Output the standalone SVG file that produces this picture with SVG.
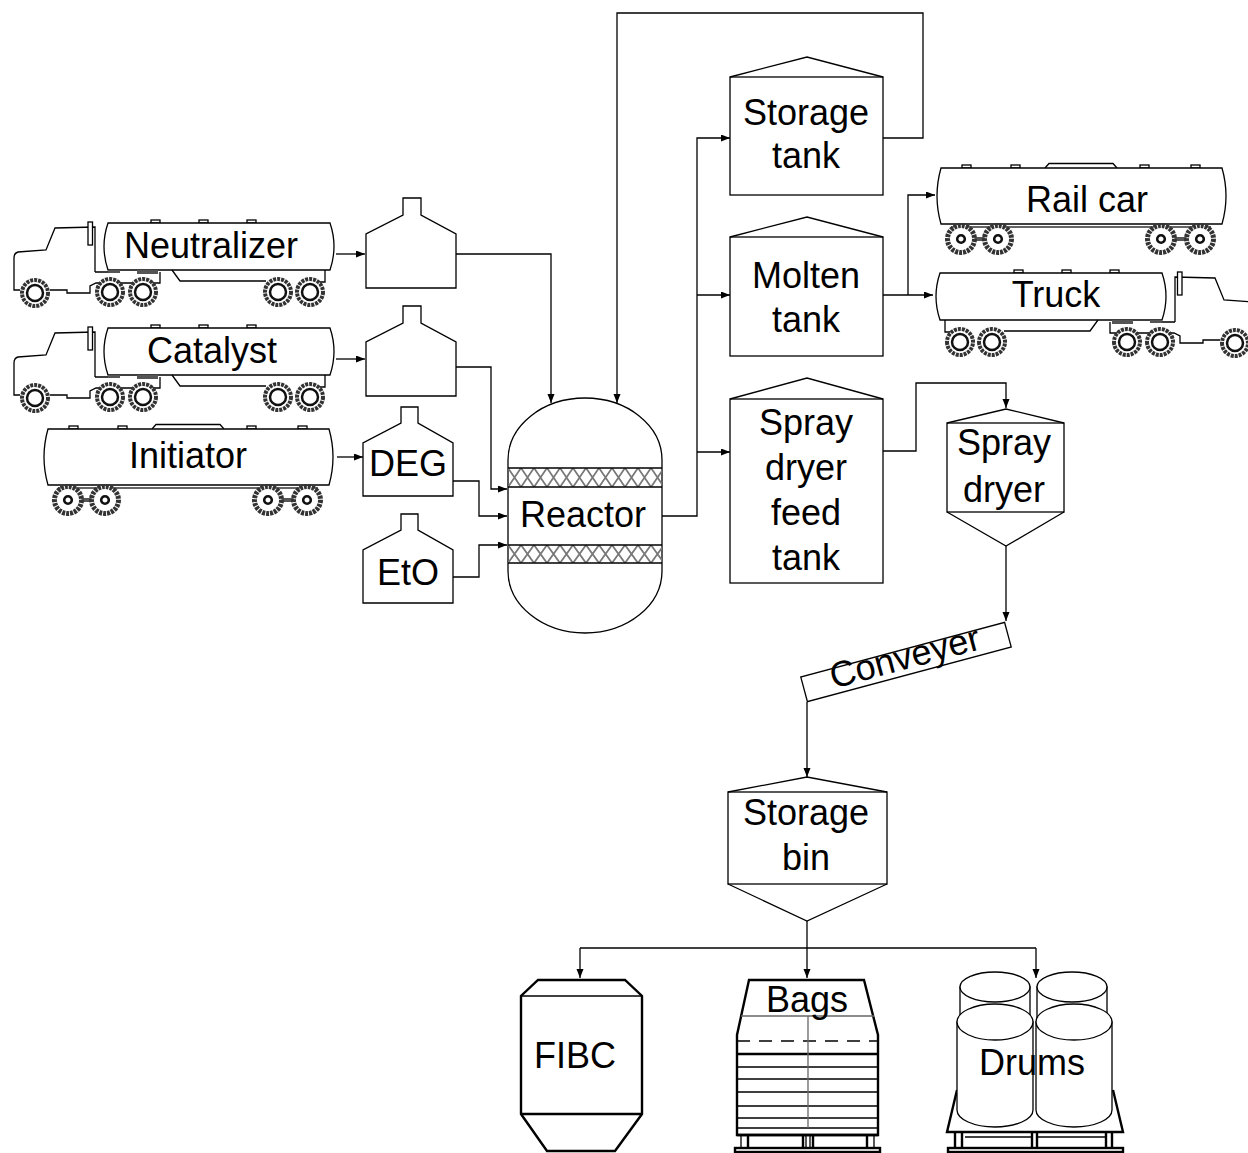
<svg xmlns="http://www.w3.org/2000/svg" width="1248" height="1153" viewBox="0 0 1248 1153">
<style>
.s{fill:none;stroke:#000;stroke-width:1.3}
.w{fill:#fff;stroke:#000;stroke-width:1.3}
.k{fill:none;stroke:#000;stroke-width:2.4}
.kw{fill:#fff;stroke:#000;stroke-width:2.4}
.g{fill:none;stroke:#666;stroke-width:1.3}
.t{font-family:"Liberation Sans",Arial,sans-serif;font-size:36px;text-anchor:middle;fill:#000}
.c{fill:none;stroke:#000;stroke-width:1.3;marker-end:url(#a)}
</style>
<defs>
<marker id="a" markerUnits="userSpaceOnUse" markerWidth="10" markerHeight="8" refX="9" refY="3.5" orient="auto"><path d="M0,0 L9,3.5 L0,7 Z" fill="#000"/></marker>
<pattern id="h1" patternUnits="userSpaceOnUse" x="508" y="468" width="13" height="19"><path d="M0,0 L13,19 M13,0 L0,19" stroke="#777" stroke-width="1.8" fill="none"/></pattern>
<pattern id="h2" patternUnits="userSpaceOnUse" x="508" y="545" width="13" height="18"><path d="M0,0 L13,18 M13,0 L0,18" stroke="#777" stroke-width="1.8" fill="none"/></pattern>
<g id="tw"><circle r="13" fill="#fff" stroke="#333" stroke-width="4" stroke-dasharray="3 1"/><circle r="8" fill="#fff" stroke="#111" stroke-width="2.5"/></g>
<g id="rw"><circle r="13.5" fill="#fff" stroke="#333" stroke-width="5" stroke-dasharray="3 1"/><circle r="3.8" fill="#fff" stroke="#111" stroke-width="2.6"/></g>
<g id="truck">
<rect x="151" y="220" width="9" height="3" class="w"/>
<rect x="199" y="220" width="9" height="3" class="w"/>
<rect x="247" y="220" width="9" height="3" class="w"/>
<path d="M108,223 H330 Q338,246.5 330,270 H108 Q100,246.5 108,223 Z" class="w"/>
<path d="M95,272 V227 L55,228 L46,250 L18,252 Q14,253 14,258 V290 H20" class="s"/>
<path d="M50,290 H67 V293 H90 V286 L96,283 H160 V272 M95,272 H120" class="s"/>
<rect x="88" y="222" width="4.5" height="23" class="w"/>
<rect x="108" y="270" width="12" height="3" fill="#555"/>
<rect x="137" y="270" width="21" height="4" fill="#555"/>
<path d="M172,270 L180,281 H266 M325,270 V282 H320" class="s"/>
<use href="#tw" x="35" y="293"/>
<use href="#tw" x="110" y="292"/>
<use href="#tw" x="143" y="292"/>
<use href="#tw" x="278" y="292"/>
<use href="#tw" x="310" y="292"/>
</g>
<g id="rail">
<rect x="69" y="426" width="9" height="3" class="w"/>
<rect x="118" y="426" width="9" height="3" class="w"/>
<rect x="247" y="426" width="9" height="3" class="w"/>
<rect x="298" y="426" width="9" height="3" class="w"/>
<path d="M152,429 L156,424.5 H220 L224,429" class="w"/>
<path d="M48,429 H329 Q337,457 329,485 H48 Q40,457 48,429 Z" class="w"/>
<line x1="58" y1="488" x2="318" y2="488" stroke="#666" stroke-width="2"/>
<rect x="68" y="498" width="37" height="4" fill="#555"/>
<rect x="268" y="498" width="39" height="4" fill="#555"/>
<use href="#rw" x="68" y="500"/>
<use href="#rw" x="105" y="500"/>
<use href="#rw" x="268" y="500"/>
<use href="#rw" x="307" y="500"/>
</g>
</defs>
<rect width="1248" height="1153" fill="#fff"/>

<g id="connectors">
<path d="M336,254 H365" class="c"/>
<path d="M336,359 H365" class="c"/>
<path d="M337,457 H363" class="c"/>
<path d="M456,254 H551 V403" class="c"/>
<path d="M456,367 H491 V489 H507" class="c"/>
<path d="M453,481 H479 V516 H507" class="c"/>
<path d="M453,577 H479 V545 H507" class="c"/>
<path d="M883,138 H923 V13 H617 V403" class="c"/>
<path d="M662,516 H697 V138 H730" class="c"/>
<path d="M697,295 H730" class="c"/>
<path d="M697,452 H730" class="c"/>
<path d="M883,295 H933" class="c"/>
<path d="M908,295 V195 H935" class="c"/>
<path d="M883,451 H916 V383 H1006 V408" class="c"/>
<path d="M1006,546 V621" class="c"/>
<path d="M807,702 V777" class="c"/>
<path d="M807,921 V978" class="c"/>
<path d="M580,948 H1036" class="s"/>
<path d="M580,948 V978" class="c"/>
<path d="M1036,948 V978" class="c"/>
</g>

<g id="neutralizer-truck"><use href="#truck"/><text x="211" y="258" class="t">Neutralizer</text></g>
<g id="catalyst-truck"><use href="#truck" transform="translate(0,105)"/><text x="212" y="363" class="t">Catalyst</text></g>
<g id="initiator-railcar"><use href="#rail"/><text x="188" y="468" class="t">Initiator</text></g>

<g id="neutralizer-tank"><path d="M403,198 H421 V215 L456,234 V288 H366 V234 L403,215 Z" class="w"/></g>
<g id="catalyst-tank"><path d="M403,306 H421 V323 L456,342 V396 H366 V342 L403,323 Z" class="w"/></g>
<g id="deg-tank"><path d="M401,407 H418 V423 L453,443 V496 H363 V443 L401,423 Z" class="w"/><text x="408" y="476" class="t">DEG</text></g>
<g id="eto-tank"><path d="M401,514 H418 V530 L453,550 V603 H363 V550 L401,530 Z" class="w"/><text x="408" y="585" class="t">EtO</text></g>

<g id="reactor">
<path d="M508,460 A77,62 0 0 1 662,460 V571 A77,62 0 0 1 508,571 Z" class="w"/>
<rect x="508" y="468" width="154" height="19" fill="url(#h1)"/>
<rect x="508" y="545" width="154" height="18" fill="url(#h2)"/>
<path d="M508,468 H662 M508,487 H662 M508,545 H662 M508,563 H662" class="s"/>
<text x="583" y="527" class="t">Reactor</text>
</g>

<g id="storage-tank"><rect x="730" y="77" width="153" height="118" class="w"/><path d="M730,77 L807,57 L883,77" class="s"/><text x="806" y="125" class="t">Storage</text><text x="806" y="168" class="t">tank</text></g>
<g id="molten-tank"><rect x="730" y="237" width="153" height="119" class="w"/><path d="M730,237 L807,217 L883,237" class="s"/><text x="806" y="288" class="t">Molten</text><text x="806" y="332" class="t">tank</text></g>
<g id="spray-dryer-feed-tank"><rect x="730" y="399" width="153" height="184" class="w"/><path d="M730,399 L807,378 L883,399" class="s"/><text x="806" y="435" class="t">Spray</text><text x="806" y="480" class="t">dryer</text><text x="806" y="525" class="t">feed</text><text x="806" y="570" class="t">tank</text></g>

<g id="rail-car"><use href="#rail" transform="translate(893,-261)"/><text x="1087" y="212" class="t">Rail car</text></g>
<g id="truck-out"><use href="#truck" transform="translate(1270,50) scale(-1,1)"/><text x="1056" y="307" class="t">Truck</text></g>

<g id="spray-dryer"><rect x="947" y="423" width="117" height="89" class="w"/><path d="M947,423 L1006,409 L1064,423 M947,512 L1006,546 L1064,512" class="s"/><text x="1004" y="455" class="t">Spray</text><text x="1004" y="502" class="t">dryer</text></g>

<g id="conveyer" transform="translate(906,662) rotate(-15)"><rect x="-105.5" y="-12.8" width="211" height="25.6" class="w"/><text x="0" y="7" class="t">Conveyer</text></g>

<g id="storage-bin"><rect x="728" y="792" width="159" height="92" class="w"/><path d="M728,792 L807,777 L887,792 M728,884 L807,921 L887,884" class="s"/><text x="806" y="825" class="t">Storage</text><text x="806" y="870" class="t">bin</text></g>

<g id="fibc">
<path d="M538,980 H625 L642,996 V1114 L615,1151 H547 L521,1114 V996 Z" class="kw"/>
<path d="M521,996 H642" class="s"/>
<path d="M521,1114 H642" class="k"/>
<text x="575" y="1068" class="t">FIBC</text>
</g>

<g id="bags">
<path d="M737,1135 V1035 L749,980 H864 L878,1035 V1135 Z" class="kw"/>
<path d="M741,1016 H874" class="g"/>
<path d="M737,1041 H878" stroke="#000" stroke-width="1.3" stroke-dasharray="13 9" fill="none"/>
<path d="M737,1054 H878" class="k"/>
<path d="M737,1067 H878 M737,1079 H878 M737,1092 H878 M737,1106 H878 M737,1118 H878 M737,1128 H878" class="s"/>
<path d="M808,1016 V1128" class="g"/>
<path d="M737,1135 H878" class="k"/>
<path d="M748,1135 V1148 M803,1135 V1148 M813,1135 V1148 M867,1135 V1148" class="k"/>
<path d="M741,1135 V1148 M874,1135 V1148 M806,1135 V1148 M810,1135 V1148" class="s"/>
<rect x="735" y="1148" width="145" height="4" class="kw"/>
<text x="807" y="1012" class="t">Bags</text>
</g>

<g id="drums">
<path d="M957,1090 L947,1132 H1123 L1113,1090" class="k"/>
<path d="M965,1132 H1032 M1038,1132 H1105 M965,1137 H1032 M1038,1137 H1105" class="s"/>
<path d="M955,1132 V1148 M962,1132 V1148 M1032,1132 V1148 M1037,1132 V1148 M1106,1132 V1148 M1112,1132 V1148" class="k"/>
<rect x="948" y="1148" width="175" height="4" class="kw"/>
<path d="M960,987 V1060 H1030 V987 Z" class="w"/>
<ellipse cx="995" cy="987" rx="35" ry="15" class="w"/>
<path d="M1037,987 V1060 H1107 V987 Z" class="w"/>
<ellipse cx="1072" cy="987" rx="35" ry="15" class="w"/>
<path d="M957,1022 V1110 A38,17 0 0 0 1033,1110 V1022 Z" class="w"/>
<ellipse cx="995" cy="1022" rx="38" ry="18" class="w"/>
<path d="M1036,1022 V1110 A38,17 0 0 0 1112,1110 V1022 Z" class="w"/>
<ellipse cx="1074" cy="1022" rx="38" ry="18" class="w"/>
<text x="1032" y="1075" class="t">Drums</text>
</g>
</svg>
